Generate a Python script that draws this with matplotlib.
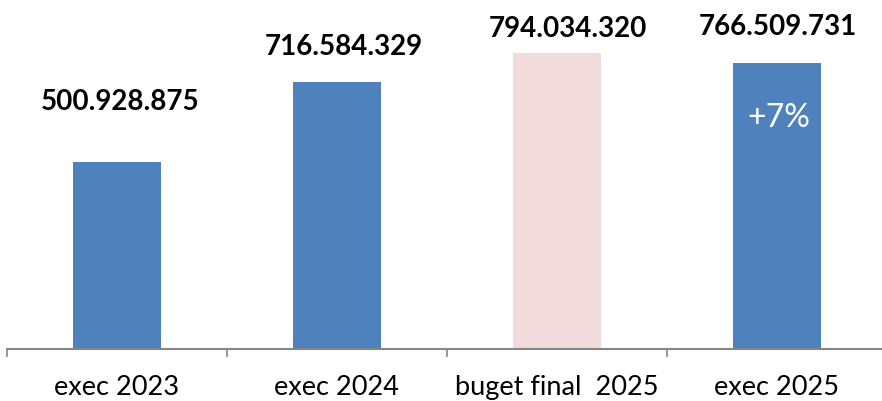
import matplotlib
matplotlib.use("Agg")
import matplotlib.pyplot as plt

categories = ["exec 2023", "exec 2024", "buget final  2025", "exec 2025"]
values = [500928875, 716584329, 794034320, 766509731]
value_labels = ["500.928.875", "716.584.329", "794.034.320", "766.509.731"]
bar_colors = ["#4F81BD", "#4F81BD", "#F2DCDB", "#4F81BD"]
change_label = "+7%"

label_offsets_px = [(3, 60), (7, 35), (11, 24), (1, 36)]

plt.rcParams['font.family'] = ['Lato', 'DejaVu Sans']

W, H = 882, 401
fig = plt.figure(figsize=(W / 100, H / 100), dpi=100)
ax = fig.add_axes([7 / W, (H - 349) / H, 880 / W, 349 / H])

x = list(range(len(categories)))
ax.bar(x, values, width=0.4, color=bar_colors, zorder=2)
ax.set_xlim(-0.5, len(categories) - 0.5)
ax.set_ylim(0, 935e6)

for i, (v, lab, off) in enumerate(zip(values, value_labels, label_offsets_px)):
    ax.annotate(lab, (i, v), xytext=(off[0] * 0.72, off[1] * 0.72), textcoords="offset points",
                ha="center", va="center", fontsize=20, fontweight="bold", color="black")

ax.annotate(change_label, (3, values[3]), xytext=(2 * 0.72, -55 * 0.72), textcoords="offset points",
            ha="center", va="center", fontsize=23, color="white")

for s in ["top", "right", "left"]:
    ax.spines[s].set_visible(False)
ax.spines["bottom"].set_color("#868686")
ax.spines["bottom"].set_linewidth(1.5)
ax.set_yticks([])
ax.set_xticks([-0.5, 0.5, 1.5, 2.5, 3.5])
ax.set_xticklabels([])
ax.set_xticks(x, minor=True)
ax.set_xticklabels(categories, minor=True, fontsize=19.5)
ax.tick_params(axis="x", which="major", length=6, width=1.2, color="#868686", direction="out")
ax.tick_params(axis="x", which="minor", length=0, pad=19)

fig.savefig("out.png", dpi=100)
